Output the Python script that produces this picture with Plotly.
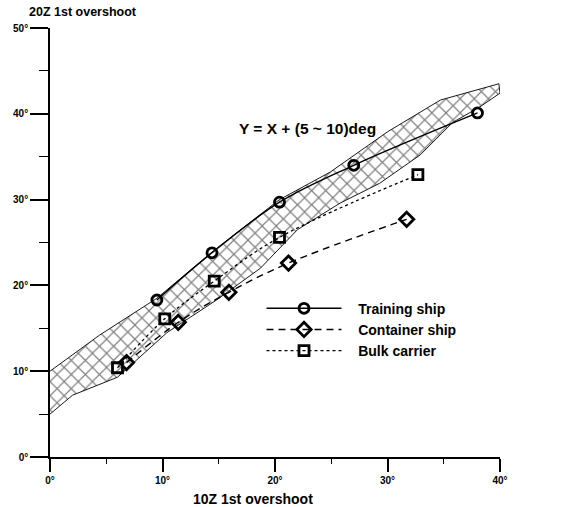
import plotly.graph_objects as go

# First overshoot angles (deg): 10/10 zig-zag (x) vs 20/20 zig-zag (y)
train_x = [9.5, 14.4, 20.4, 27.0, 38.0]
train_y = [18.3, 23.8, 29.7, 34.0, 40.1]
cont_x = [6.8, 11.4, 15.9, 21.2, 31.7]
cont_y = [11.0, 15.7, 19.2, 22.6, 27.7]
bulk_x = [6.0, 10.2, 14.6, 20.4, 32.7]
bulk_y = [10.4, 16.1, 20.5, 25.6, 32.9]

# Envelope of the Y = X + (5 ~ 10) deg band
band_upper_x = [0, 4.4, 9.5, 14.4, 20.4, 24.9, 30.0, 34.7, 39.9]
band_upper_y = [10.0, 14.2, 18.5, 23.9, 30.0, 33.2, 37.9, 41.6, 43.5]
band_lower_x = [0, 2.0, 6.0, 10.4, 14.8, 18.7, 22.0, 25.8, 29.3, 32.9, 35.8, 38.2, 40.0]
band_lower_y = [5.0, 7.2, 9.3, 14.5, 18.3, 22.0, 26.5, 29.6, 31.9, 35.2, 39.0, 40.8, 42.4]

x_ticks = [0, 10, 20, 30, 40]
x_labels = ["0°", "10°", "20°", "30°", "40°"]
y_ticks = [0, 10, 20, 30, 40, 50]
y_labels = ["0°", "10°", "20°", "30°", "40°", "50°"]

FONT = "Liberation Sans, Arial, sans-serif"
PAD = "\u00a0\u00a0\u00a0"  # gap between legend sample and its label

fig = go.Figure()

fig.add_trace(go.Scatter(
    x=band_upper_x + band_lower_x[::-1],
    y=band_upper_y + band_lower_y[::-1],
    mode="lines", fill="toself",
    fillcolor="white",
    fillpattern=dict(shape="x", size=10, solidity=0.22,
                     fgcolor="black", bgcolor="white"),
    line=dict(color="black", width=0.9),
    showlegend=False, hoverinfo="skip",
))

fig.add_trace(go.Scatter(
    x=train_x, y=train_y, name=PAD + "Training ship",
    mode="lines+markers",
    line=dict(color="black", width=1.4, shape="spline"),
    marker=dict(symbol="circle-open", size=10, color="black",
                line=dict(width=2.8, color="black")),
))
fig.add_trace(go.Scatter(
    x=cont_x, y=cont_y, name=PAD + "Container ship",
    mode="lines+markers",
    line=dict(color="black", width=1.4, dash="7px,5px", shape="spline"),
    marker=dict(symbol="diamond-open", size=11, color="black",
                line=dict(width=2.8, color="black")),
))
fig.add_trace(go.Scatter(
    x=bulk_x, y=bulk_y, name=PAD + "Bulk carrier",
    mode="lines+markers",
    line=dict(color="black", width=1.3, dash="3px,3px", shape="spline"),
    marker=dict(symbol="square-open", size=10, color="black",
                line=dict(width=2.8, color="black")),
))

fig.add_annotation(
    x=22.9, y=38.3, xref="x", yref="y",
    text="Y = X + (5 ~ 10)deg", showarrow=False,
    font=dict(family=FONT, size=15.5, color="black", weight="bold"),
)
fig.add_annotation(
    x=-0.051, y=1.037, xref="paper", yref="paper", xanchor="left", yanchor="middle",
    text="20Z 1st overshoot", showarrow=False,
    font=dict(family=FONT, size=12.5, color="black", weight="bold"),
)
fig.add_annotation(
    x=0.451, y=-0.097, xref="paper", yref="paper", xanchor="center", yanchor="middle",
    text="10Z 1st overshoot", showarrow=False,
    font=dict(family=FONT, size=14, color="black", weight="bold"),
)

fig.update_layout(
    width=561, height=507,
    margin=dict(l=50, r=61, t=28, b=50),
    paper_bgcolor="white", plot_bgcolor="white",
    font=dict(family=FONT, color="black"),
    legend=dict(
        x=0.47, y=0.383, xanchor="left", yanchor="top",
        bgcolor="rgba(0,0,0,0)", borderwidth=0,
        itemwidth=75,
        font=dict(family=FONT, size=14, color="black", weight="bold"),
    ),
    xaxis=dict(
        range=[0, 40], tickvals=x_ticks, ticktext=x_labels,
        showgrid=False, zeroline=False,
        showline=True, linecolor="black", linewidth=1.6,
        ticks="outside", ticklen=13, tickwidth=1.6, tickcolor="black",
        tickfont=dict(family=FONT, size=10, weight="bold"),
        minor=dict(dtick=5, ticks="outside", ticklen=5, tickwidth=1.3,
                   tickcolor="black", showgrid=False),
    ),
    yaxis=dict(
        range=[0, 50], tickvals=y_ticks, ticktext=y_labels,
        showgrid=False, zeroline=False,
        showline=True, linecolor="black", linewidth=1.6,
        ticks="outside", ticklen=18, tickwidth=1.6, tickcolor="black",
        tickfont=dict(family=FONT, size=10, weight="bold"),
        minor=dict(dtick=5, ticks="outside", ticklen=9, tickwidth=1.3,
                   tickcolor="black", showgrid=False),
    ),
)

fig.write_html("out.html")
